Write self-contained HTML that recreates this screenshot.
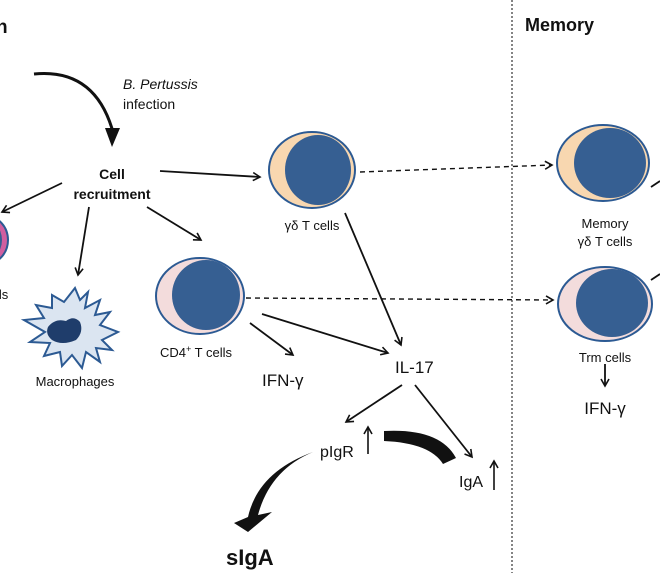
<!DOCTYPE html>
<html><head><meta charset="utf-8"><style>
html,body{margin:0;padding:0;background:#fff;}
svg text{font-family:"Liberation Sans",sans-serif;fill:#111;}
</style></head><body>
<svg width="660" height="573" viewBox="0 0 660 573" xmlns="http://www.w3.org/2000/svg">
<defs>
<marker id="a" markerWidth="10" markerHeight="10" refX="8" refY="5" orient="auto" markerUnits="userSpaceOnUse"><path d="M1,1 L8,5 L1,9" fill="none" stroke="#111" stroke-width="1.6"/></marker>
</defs>
<line x1="512" y1="0" x2="512" y2="573" stroke="#333" stroke-width="1.2" stroke-dasharray="2,2"/>
<text x="-4" y="33" font-size="19" font-weight="bold">n</text>
<text x="525" y="31" font-size="18" font-weight="bold">Memory</text>

<path d="M34,74 Q95,68 113,132" fill="none" stroke="#111" stroke-width="3"/>
<path d="M105,128 L120,128 L112,147 Z" fill="#111"/>
<text x="123" y="89" font-size="14" font-style="italic">B. Pertussis</text>
<text x="123" y="109" font-size="14">infection</text>
<text x="112" y="179" font-size="14" font-weight="bold" text-anchor="middle">Cell</text>
<text x="112" y="199" font-size="14" font-weight="bold" text-anchor="middle">recruitment</text>

<g stroke="#111" stroke-width="1.8" fill="none" marker-end="url(#a)">
<line x1="160" y1="171" x2="260" y2="177"/>
<line x1="62" y1="183" x2="2" y2="212"/>
<line x1="89" y1="207" x2="78" y2="275"/>
<line x1="147" y1="207" x2="201" y2="240"/>
<line x1="345" y1="213" x2="401" y2="345"/>
<line x1="262" y1="314" x2="388" y2="353"/>
<line x1="250" y1="323" x2="293" y2="355"/>
<line x1="402" y1="385" x2="346" y2="422"/>
<line x1="415" y1="385" x2="472" y2="457"/>
<line x1="605" y1="364" x2="605" y2="386"/>
</g>
<g stroke="#111" stroke-width="1.4" fill="none" stroke-dasharray="5,4" marker-end="url(#a)">
<line x1="360" y1="172" x2="552" y2="165"/>
<line x1="246" y1="298" x2="553" y2="300"/>
</g>
<line x1="651" y1="187" x2="660" y2="181" stroke="#111" stroke-width="1.8"/>
<line x1="651" y1="280" x2="660" y2="274" stroke="#111" stroke-width="1.8"/>

<ellipse cx="312" cy="170" rx="43" ry="38" fill="#f8d7b0" stroke="#2c5a93" stroke-width="2"/>
<ellipse cx="318" cy="170" rx="33" ry="35" fill="#365f92"/>
<text x="312" y="230" font-size="13" text-anchor="middle">γδ T cells</text>
<ellipse cx="200" cy="296" rx="44" ry="38" fill="#f3dcdc" stroke="#2c5a93" stroke-width="2"/>
<ellipse cx="206" cy="295" rx="34" ry="35" fill="#365f92"/>
<text x="160" y="357" font-size="13">CD4<tspan font-size="9" dy="-5">+</tspan><tspan dy="5"> T cells</tspan></text>
<ellipse cx="603" cy="163" rx="46" ry="38" fill="#f8d7b0" stroke="#2c5a93" stroke-width="2"/>
<ellipse cx="610" cy="163" rx="36" ry="35" fill="#365f92"/>
<text x="605" y="228" font-size="13" text-anchor="middle">Memory</text>
<text x="605" y="246" font-size="13" text-anchor="middle">γδ T cells</text>
<ellipse cx="605" cy="304" rx="47" ry="37" fill="#f3dcdc" stroke="#2c5a93" stroke-width="2"/>
<ellipse cx="612" cy="303" rx="36" ry="34" fill="#365f92"/>
<text x="605" y="362" font-size="13" text-anchor="middle">Trm cells</text>
<text x="605" y="414" font-size="17" text-anchor="middle">IFN-γ</text>
<ellipse cx="-14" cy="240" rx="22" ry="24" fill="#d05fa0" stroke="#2c5a93" stroke-width="2"/>
<ellipse cx="-20" cy="240" rx="22" ry="23" fill="#365f92"/>
<text x="-4" y="299" font-size="13">ils</text>
<path d="M75,288 L80,300 L88,292 L85,308 L100,300 L95,315 L110,312 L100,325 L118,332 L102,340 L112,350 L96,348 L100,362 L86,352 L82,368 L72,355 L62,366 L60,352 L44,356 L50,343 L30,342 L45,332 L24,320 L44,318 L36,305 L52,308 L52,295 L64,302 Z" fill="#dbe5f1" stroke="#2c5a93" stroke-width="2"/>
<path d="M48,327 Q55,318 66,321 Q74,315 80,322 Q84,332 76,340 Q62,346 52,340 Q45,334 48,327 Z" fill="#1f3d6b"/>
<text x="75" y="386" font-size="13" text-anchor="middle">Macrophages</text>

<text x="262" y="386" font-size="17">IFN-γ</text>
<text x="395" y="373" font-size="17">IL-17</text>
<text x="320" y="457" font-size="16">pIgR</text>
<line x1="368" y1="454" x2="368" y2="427" stroke="#111" stroke-width="1.6" marker-end="url(#a)"/>
<text x="459" y="487" font-size="16">IgA</text>
<line x1="494" y1="490" x2="494" y2="461" stroke="#111" stroke-width="1.6" marker-end="url(#a)"/>
<path d="M384,431 Q440,428 456,458 L443,464 Q430,443 384,441 Z" fill="#111"/>
<path d="M313,452 Q270,470 258,515 L272,512 L248,532 L234,523 L248,517 Q258,472 313,452 Z" fill="#111"/>
<text x="226" y="565" font-size="22" font-weight="bold">sIgA</text>
</svg>
</body></html>
